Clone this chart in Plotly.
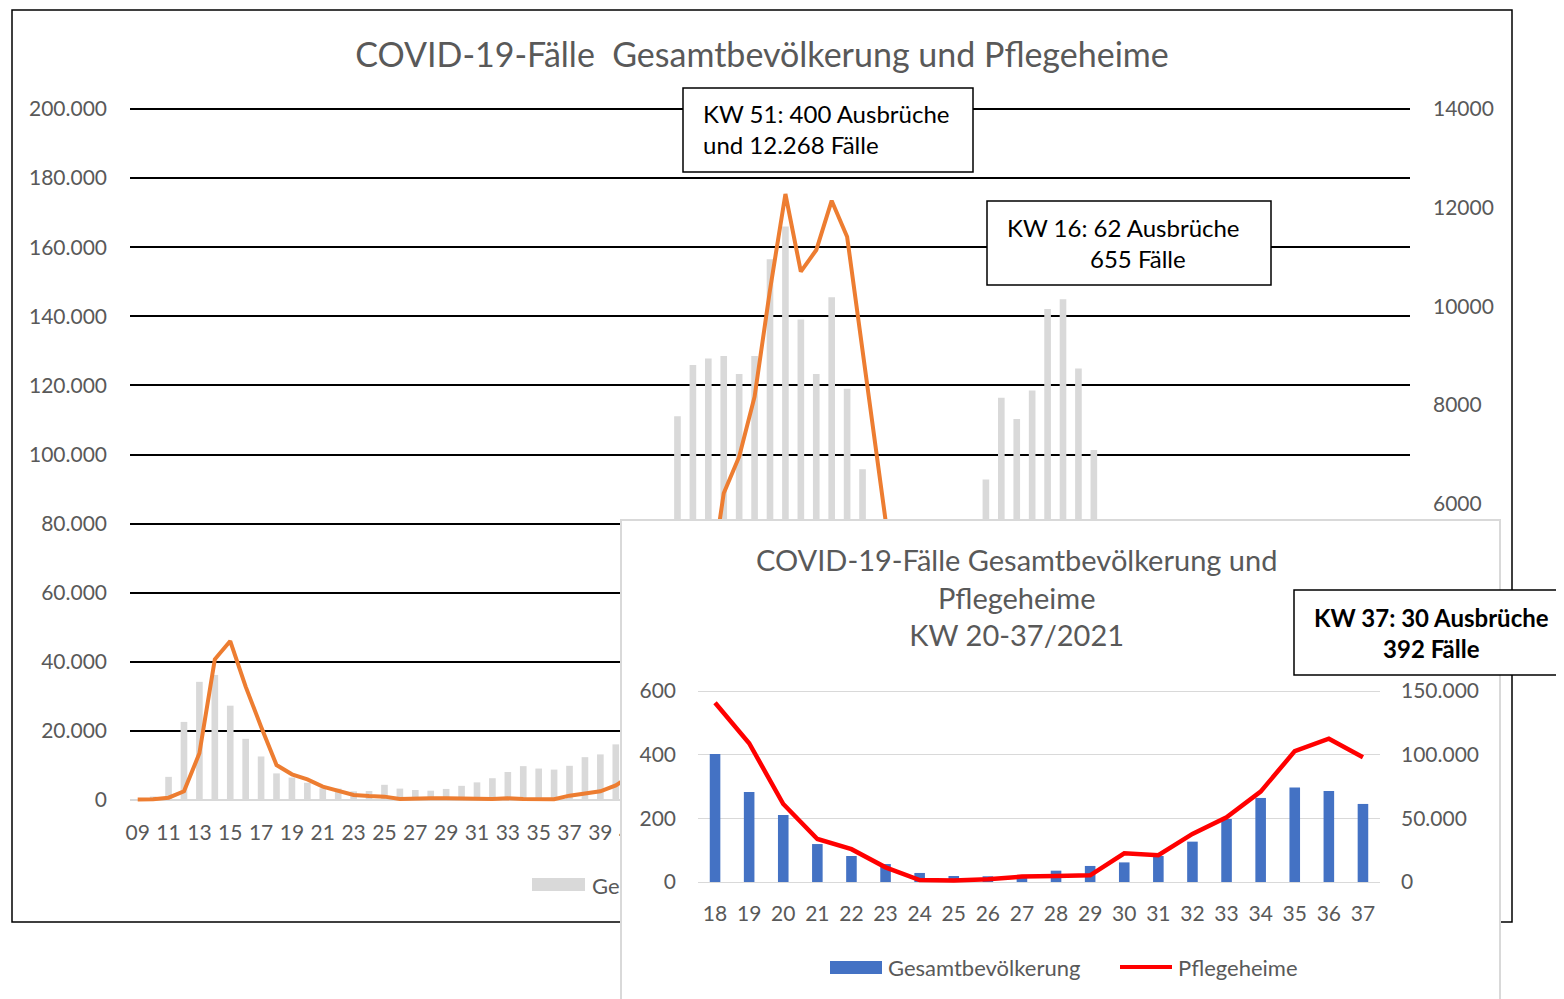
import plotly.graph_objects as go

W, H = 1564, 999
# the page body adds an 8 px margin around the figure; compensate so that
# the picture lands on the same pixels as the reference
OFF = 8


def fx(px):
    return (px - OFF) / W


def fy(py):
    return 1 - (py - OFF) / H


def axis_fit(v0, p0, v1, p1, pad=4):
    """domain/range so that value v0 sits at pixel row p0 and v1 at p1,
    with a few pixels of slack so the end gridlines are not clipped"""
    k = (v1 - v0) / (p0 - p1)
    return [fy(p0 + pad), fy(p1 - pad)], [v0 - pad * k, v1 + pad * k]


# ---------------- data: main chart (KW 09/2020 - KW 37/2021) ----------------
kw_2020 = [f"{w:02d}/2020" for w in range(9, 54)]
kw_2021 = [f"{w:02d}/2021" for w in range(1, 38)]
kw_main = kw_2020 + kw_2021

# COVID-19 cases, total population (left axis)
gesamt_main = [
    200, 1000, 6700, 22600, 34200, 36200, 27300, 17700, 12600, 7700,
    6500, 5000, 3400, 3300, 2500, 2600, 4400, 3300, 2900, 2700,
    3200, 4100, 5100, 6300, 8100, 9800, 9100, 8800, 9900, 12400,
    13200, 16100, 28000, 48000, 75000, 111100, 125900, 127800, 128500, 123300,
    128500, 156500, 166000, 139100, 123300, 145500, 119000, 95700, 75000, 62000,
    55000, 52000, 58000, 62000, 72000, 92800, 116400, 110300, 118500, 142100,
    144900, 124900, 101300, 70700, 52600, 29800, 20400, 14100, 7100, 4700,
    4500, 4800, 8900, 12600, 15400, 20400, 31700, 49500, 66000, 74300,
    71500, 61300,
]
# COVID-19 cases in nursing homes (right axis)
pflege_main = [
    10, 14, 47, 176, 946, 2850, 3221, 2296, 1486, 709,
    520, 419, 270, 182, 101, 81, 68, 20, 34, 34,
    34, 40, 27, 20, 34, 20, 27, 14, 88, 142,
    176, 297, 500, 900, 1600, 2500, 3300, 4100, 6214, 6956,
    8171, 10333, 12278, 10704, 11143, 12142, 11413, 9076, 6700, 4500,
    3000, 2100, 1500, 1200, 1000, 850, 800, 760, 720, 690,
    655, 610, 563, 436, 245, 135, 103, 46, 6, 5,
    9, 17, 19, 21, 90, 84, 151, 203, 284, 411,
    450, 392,
]
# week labels shown on the main x axis (the rest lies under the inset)
main_x_labels = kw_main[:33:2]
main_right_ticks = [6000, 8000, 10000, 12000, 14000]

# ---------------- data: inset (KW 18 - 37 / 2021) ----------------
kw_inset = ["18", "19", "20", "21", "22", "23", "24", "25", "26", "27",
            "28", "29", "30", "31", "32", "33", "34", "35", "36", "37"]
gesamt_inset = [100500, 70700, 52600, 29800, 20400, 14100, 7100, 4700, 4500, 4800,
                8900, 12600, 15400, 20400, 31700, 49500, 66000, 74300, 71500, 61300]
pflege_inset = [563, 436, 245, 135, 103, 46, 6, 5, 9, 17,
                19, 21, 90, 84, 151, 203, 284, 411, 450, 392]

# ---------------- axis geometry ----------------
main_dom, main_left_range = axis_fit(0, 800, 200000, 109)
_, main_right_range = axis_fit(0, 800, 14000, 109)
ins_dom, ins_right_range = axis_fit(0, 882, 150000, 691)
_, ins_left_range = axis_fit(0, 882, 600, 691)

# ---------------- styling ----------------
FONT = "Lato"
GREY_TXT = "#595959"
TICK = 21

fig = go.Figure()

fig.add_trace(go.Bar(x=kw_main, y=gesamt_main, name="Gesamtbevölkerung",
                     marker=dict(color="#D9D9D9", line=dict(width=0)), width=0.43,
                     xaxis="x", yaxis="y", showlegend=False))
fig.add_trace(go.Scatter(x=kw_main, y=pflege_main, name="Pflegeheime", mode="lines",
                         line=dict(color="#ED7D31", width=4),
                         xaxis="x", yaxis="y2", showlegend=False))
# blank subplot = white card of the inset chart
fig.add_trace(go.Scatter(x=[], y=[], xaxis="x3", yaxis="y3", showlegend=False,
                         hoverinfo="skip"))
fig.add_trace(go.Bar(x=kw_inset, y=gesamt_inset, name="Gesamtbevölkerung",
                     marker=dict(color="#4472C4", line=dict(width=0)), width=0.31,
                     xaxis="x4", yaxis="y4", showlegend=False))
fig.add_trace(go.Scatter(x=kw_inset, y=pflege_inset, name="Pflegeheime", mode="lines",
                         line=dict(color="#FF0000", width=4.5),
                         xaxis="x4", yaxis="y5", showlegend=False))

tickfont = dict(family=FONT, size=TICK, color=GREY_TXT)

fig.update_layout(
    width=W, height=H, autosize=False,
    margin=dict(l=0, r=0, t=0, b=0, pad=0, autoexpand=False),
    paper_bgcolor="white", plot_bgcolor="white",
    separators=",.",
    font=dict(family=FONT, color=GREY_TXT),
    showlegend=False,
    title=dict(text="COVID-19-Fälle  Gesamtbevölkerung und Pflegeheime",
               x=fx(762), xanchor="center", y=fy(55), yanchor="middle",
               xref="paper", yref="paper",
               font=dict(family=FONT, size=34, color=GREY_TXT)),
    xaxis=dict(domain=[fx(130), fx(1410)], anchor="y", type="category",
               categoryorder="array", categoryarray=kw_main, range=[-0.5, 82.5],
               tickmode="array", tickvals=main_x_labels,
               ticktext=[k[:2] for k in main_x_labels],
               showgrid=False, showline=False, zeroline=False,
               ticks="", tickfont=tickfont, ticklabelstandoff=14, fixedrange=True),
    yaxis=dict(domain=main_dom, anchor="x", range=main_left_range,
               tickmode="linear", tick0=0, dtick=20000, tickformat=",d",
               showgrid=True, gridcolor="black", gridwidth=1.5,
               zeroline=True, zerolinecolor="#D9D9D9", zerolinewidth=2,
               ticks="", tickfont=tickfont, ticklabelstandoff=22, fixedrange=True),
    yaxis2=dict(overlaying="y", side="right", anchor="x", range=main_right_range,
                tickmode="array", tickvals=main_right_ticks, tickformat="d",
                showgrid=False, zeroline=False, ticks="", tickfont=tickfont,
                ticklabelstandoff=22, fixedrange=True),
    xaxis3=dict(domain=[fx(622), fx(1499)], anchor="y3", range=[0, 1], side="top",
                showline=True, linecolor="#D9D9D9", linewidth=1.5,
                showgrid=False, zeroline=False, showticklabels=False, ticks="",
                fixedrange=True),
    yaxis3=dict(domain=[0, fy(521)], anchor="x3", range=[0, 1],
                showline=True, mirror=True, linecolor="#D9D9D9", linewidth=1.5,
                showgrid=False, zeroline=False, showticklabels=False, ticks="",
                fixedrange=True),
    xaxis4=dict(domain=[fx(698), fx(1380)], anchor="y4", type="category",
                showgrid=False, showline=False, zeroline=False, ticks="",
                tickfont=tickfont, ticklabelstandoff=13, fixedrange=True),
    yaxis4=dict(domain=ins_dom, anchor="x4", side="right",
                range=ins_right_range, tickmode="linear", tick0=0, dtick=50000,
                tickformat=",d", showgrid=True, gridcolor="#D9D9D9", gridwidth=1.2,
                zeroline=True, zerolinecolor="#D9D9D9", zerolinewidth=1.2,
                ticks="", tickfont=tickfont, ticklabelstandoff=20, fixedrange=True),
    yaxis5=dict(overlaying="y4", side="left", anchor="x4", range=ins_left_range,
                tickmode="linear", tick0=0, dtick=200, showgrid=False,
                zeroline=False, ticks="", tickfont=tickfont, ticklabelstandoff=21,
                fixedrange=True),
)

shapes = [
    # outer frame of the background chart (below, partly covered by inset)
    dict(type="rect", xref="paper", yref="paper", layer="below",
         x0=fx(12), x1=fx(1512), y0=fy(922), y1=fy(10),
         line=dict(color="black", width=1.5), fillcolor="rgba(0,0,0,0)"),
    # legend of the background chart (mostly covered by inset)
    dict(type="rect", xref="paper", yref="paper", layer="below",
         x0=fx(532), x1=fx(585), y0=fy(891), y1=fy(878),
         line=dict(width=0), fillcolor="#D9D9D9"),
    dict(type="rect", xref="paper", yref="paper", layer="below",
         x0=fx(588), x1=fx(820), y0=fy(900), y1=fy(870),
         line=dict(width=0), fillcolor="rgba(0,0,0,0)",
         label=dict(text="Gesamtbevölkerung", textposition="middle left",
                    padding=1, font=dict(family=FONT, size=22, color=GREY_TXT))),
    # callout boxes
    dict(type="rect", xref="paper", yref="paper", layer="above",
         x0=fx(683), x1=fx(973), y0=fy(172), y1=fy(88),
         line=dict(color="black", width=1.5), fillcolor="white"),
    dict(type="rect", xref="paper", yref="paper", layer="above",
         x0=fx(987), x1=fx(1271), y0=fy(285), y1=fy(201),
         line=dict(color="black", width=1.5), fillcolor="white"),
    dict(type="rect", xref="paper", yref="paper", layer="above",
         x0=fx(1294), x1=fx(1575), y0=fy(675), y1=fy(590),
         line=dict(color="black", width=1.5), fillcolor="white"),
    # inset legend symbols
    dict(type="rect", xref="paper", yref="paper", layer="above",
         x0=fx(830), x1=fx(882), y0=fy(974), y1=fy(961),
         line=dict(width=0), fillcolor="#4472C4"),
    dict(type="line", xref="paper", yref="paper", layer="above",
         x0=fx(1120), x1=fx(1172), y0=fy(967), y1=fy(967),
         line=dict(color="#FF0000", width=4)),
]

ann_font = dict(family=FONT, size=24, color="black")
annotations = [
    dict(text="KW 51: 400 Ausbrüche<br>und 12.268 Fälle", xref="paper", yref="paper",
         x=fx(701), y=fy(129), xanchor="left", yanchor="middle", align="left",
         showarrow=False, font=ann_font),
    dict(text="KW 16: 62 Ausbrüche", xref="paper", yref="paper",
         x=fx(1005), y=fy(227), xanchor="left", yanchor="middle",
         showarrow=False, font=ann_font),
    dict(text="655 Fälle", xref="paper", yref="paper",
         x=fx(1088), y=fy(258), xanchor="left", yanchor="middle",
         showarrow=False, font=ann_font),
    dict(text="<b>KW 37: 30 Ausbrüche<br>392 Fälle</b>", xref="paper", yref="paper",
         x=fx(1431), y=fy(633), xanchor="center", yanchor="middle", align="center",
         showarrow=False, font=ann_font),
    dict(text="COVID-19-Fälle Gesamtbevölkerung und<br>Pflegeheime<br>KW 20-37/2021",
         xref="paper", yref="paper", x=fx(1016), y=fy(597), xanchor="center",
         yanchor="middle", align="center", showarrow=False,
         font=dict(family=FONT, size=29, color=GREY_TXT)),
    dict(text="Gesamtbevölkerung", xref="paper", yref="paper",
         x=fx(886), y=fy(967), xanchor="left", yanchor="middle",
         showarrow=False, font=dict(family=FONT, size=22, color=GREY_TXT)),
    dict(text="Pflegeheime", xref="paper", yref="paper",
         x=fx(1176), y=fy(967), xanchor="left", yanchor="middle",
         showarrow=False, font=dict(family=FONT, size=22, color=GREY_TXT)),
]

fig.update_layout(shapes=shapes, annotations=annotations)

fig.write_html("out.html")
